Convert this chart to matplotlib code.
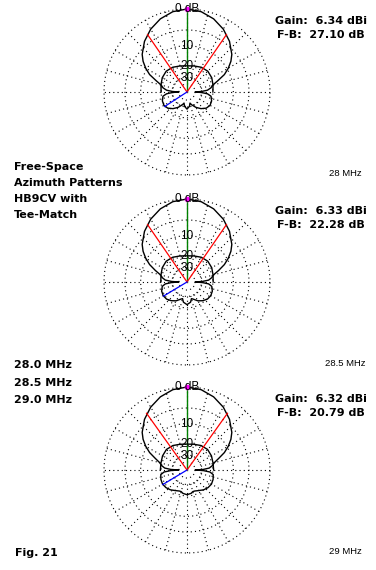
import numpy as np
import matplotlib
matplotlib.use("Agg")
import matplotlib.pyplot as plt

W, H, DPI = 376, 570, 100

# ---- data -------------------------------------------------------------
# one half of each (symmetric) azimuth pattern, angle from forward direction
angles_deg = [0, 10, 20, 30, 40, 50, 55, 60, 65, 70, 75, 80, 85, 88, 90,
              92, 95, 100, 110, 120, 130, 140, 150, 160, 165, 170, 180]
db_280 = [0, -0.3, -1.1, -2.3, -3.9, -6.0, -7.5, -9.5, -12, -16, -19.5, -21,
          -24, -30, -40, -30, -24, -21, -19.8, -19.5, -20.5, -23, -26.5, -31,
          -34, -30, -27.1]
db_285 = [0, -0.3, -1.1, -2.3, -3.9, -6.0, -7.5, -9.5, -12, -15.5, -19, -20.5,
          -23, -29, -40, -29, -23, -20.5, -19.3, -19, -19.5, -21, -23, -26,
          -27, -24, -22.3]
db_290 = [0, -0.3, -1.1, -2.3, -3.9, -6.0, -7.5, -9.5, -12, -15.5, -18.5, -20,
          -22.5, -28, -40, -28, -22, -19.5, -18.8, -18.5, -19, -20, -21.5,
          -22.5, -22.5, -21.5, -20.8]
patterns = [db_280, db_285, db_290]
# inner (minor) trace across the forward half
inner_angles_deg = [0, 15, 30, 45, 60, 75, 90]
inner_280 = [-19.8, -19.3, -18.3, -17.8, -18.3, -19.3, -20.0]
inner_285 = [-19.8, -19.3, -18.3, -17.8, -18.3, -19.3, -19.8]
inner_290 = [-20.0, -19.5, -18.5, -18.0, -18.5, -19.3, -19.5]
inner_patterns = [inner_280, inner_285, inner_290]
freq_labels = ["28 MHz", "28.5 MHz", "29 MHz"]
gain_values = ["6.34", "6.33", "6.32"]
fb_values = ["27.10", "22.28", "20.79"]
half_beam_deg = [34.5, 34.5, 35.5]
rear_lobe_deg = [237, 239, 239]
rear_lobe_db = [-19.5, -19.0, -18.5]
ring_db = [0, -5, -10, -20, -30, -40]
ring_label_db = [-10, -20, -30]
spoke_step_deg = 15
left_title = ["Free-Space", "Azimuth Patterns", "HB9CV with", "Tee-Match"]
freq_list = ["28.0 MHz", "28.5 MHz", "29.0 MHz"]
fig_label = "Fig. 21"


def arrl(db):
    """ARRL log-periodic radial scale: 0.89 per 2 dB."""
    return 0.89 ** (-np.asarray(db, dtype=float) / 2.0)


fig = plt.figure(figsize=(W / DPI, H / DPI), dpi=DPI)
fig.patch.set_facecolor("white")

BOLD = dict(family=["DejaVu Sans"], fontweight="bold")
REG = dict(family=["Liberation Sans", "DejaVu Sans"])


def ftext(x, y, s, **kw):
    fig.text(x / W, 1 - y / H, s, **kw)


centers = [(187, 92), (187, 282), (187, 470)]
R = 83
dot = (0, (1, 2.8))

for i, (cx, cy) in enumerate(centers):
    ax = fig.add_axes([(cx - R) / W, 1 - (cy + R) / H, 2 * R / W, 2 * R / H],
                      projection="polar")
    ax.set_theta_zero_location("N")
    ax.set_theta_direction(-1)
    ax.set_ylim(0, 1)
    ax.set_axis_off()

    full = np.linspace(0, 2 * np.pi, 361)
    for d in ring_db:
        ax.plot(full, np.full_like(full, arrl(d)), color="black",
                lw=0.8, ls=dot, clip_on=False)
    for a in np.arange(0, 360, spoke_step_deg):
        ax.plot([np.deg2rad(a)] * 2, [arrl(-30), 1], color="black",
                lw=0.8, ls=dot, clip_on=False)

    ang = np.array(angles_deg, dtype=float)
    db = np.array(patterns[i], dtype=float)
    th = np.deg2rad(np.concatenate([ang, 360 - ang[::-1][1:]]))
    rr = arrl(np.concatenate([db, db[::-1][1:]]))
    ax.plot(th, rr, color="black", lw=1.0, clip_on=False)

    ia = np.array(inner_angles_deg, dtype=float)
    idb = np.array(inner_patterns[i], dtype=float)
    ith = np.deg2rad(np.concatenate([-ia[::-1], ia[1:]]))
    irr = arrl(np.concatenate([idb[::-1], idb[1:]]))
    ax.plot(ith, irr, color="black", lw=1.0, clip_on=False)

    # markers: max gain (green), -3 dB beamwidth (red), rear lobe (blue)
    ax.plot([0, 0], [0, 1], color="#008000", lw=1.0)
    for s in (-1, 1):
        ax.plot([np.deg2rad(s * half_beam_deg[i])] * 2, [0, arrl(-3)],
                color="red", lw=0.9)
    ax.plot([np.deg2rad(rear_lobe_deg[i])] * 2, [0, arrl(rear_lobe_db[i])],
            color="#0000ff", lw=0.9)
    ax.plot([0], [1], marker="o", ms=3, color="#ff00ff", clip_on=False)

    ax.text(0, 1.0, "0 dB", ha="center", va="center", fontsize=8.5, **REG)
    for d in ring_label_db:
        ax.text(0, arrl(d), str(-d), ha="center", va="center", fontsize=8.5,
                **REG)

    ftext(321, cy - 71, f"Gain:  {gain_values[i]} dBi", ha="center",
          va="center", fontsize=8, **BOLD)
    ftext(321, cy - 57, f"F-B:  {fb_values[i]} dB", ha="center",
          va="center", fontsize=8, **BOLD)
    ftext(345, cy + 81, freq_labels[i], ha="center", va="center",
          fontsize=6.8, **REG)

for k, s in enumerate(left_title):
    ftext(14, 167 + k * 16, s, ha="left", va="center", fontsize=8, **BOLD)
for k, s in enumerate(freq_list):
    ftext(14, 365 + k * 17.5, s, ha="left", va="center", fontsize=8, **BOLD)
ftext(15, 553, fig_label, ha="left", va="center", fontsize=8, **BOLD)

fig.savefig("out.png", dpi=DPI, facecolor="white")
